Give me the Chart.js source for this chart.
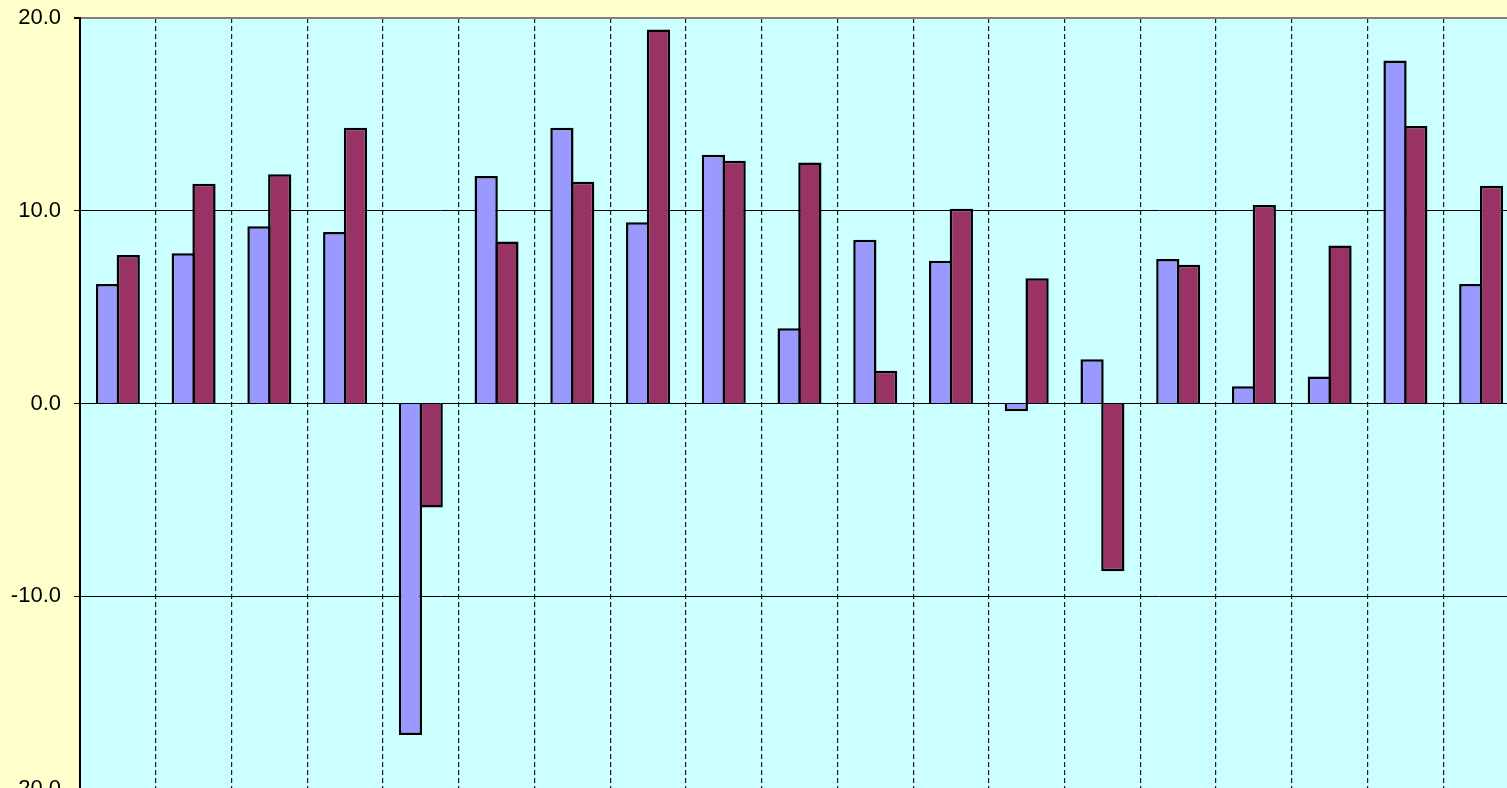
<!DOCTYPE html>
<html>
<head>
<meta charset="utf-8">
<script src="https://cdn.jsdelivr.net/npm/chart.js@4/dist/chart.umd.min.js"></script>
<style>
  html, body { margin: 0; padding: 0; background: #FFFFCC; overflow: hidden; }
  #wrap { position: absolute; left: 0; top: 0; width: 1530px; height: 812px; }
</style>
</head>
<body>
<div id="wrap"><canvas id="c" width="1530" height="812"></canvas></div>
<script>
const categories = ["1","2","3","4","5","6","7","8","9","10","11","12","13","14","15","16","17","18","19"];
const seriesA = [6.2, 7.8, 9.2, 8.9, -17.2, 11.8, 14.3, 9.4, 12.9, 3.9, 8.5, 7.4, -0.4, 2.3, 7.5, 0.9, 1.4, 17.8, 6.2];
const seriesB = [7.7, 11.4, 11.9, 14.3, -5.4, 8.4, 11.5, 19.4, 12.6, 12.5, 1.7, 10.1, 6.5, -8.7, 7.2, 10.3, 8.2, 14.4, 11.3];
const yMin = -20, yMax = 20, yStep = 10;

const plotBg = {
  id: 'plotBg',
  beforeDraw(chart) {
    const a = chart.chartArea, ctx = chart.ctx;
    ctx.save();
    ctx.fillStyle = '#CCFFFF';
    ctx.fillRect(a.left, a.top, a.right - a.left, a.bottom - a.top);
    ctx.restore();
  }
};

new Chart(document.getElementById('c'), {
  type: 'bar',
  data: {
    labels: categories,
    datasets: [
      { label: 'A', data: seriesA, backgroundColor: '#9999FF', borderColor: '#000000',
        borderWidth: 2.5, borderSkipped: 'start' },
      { label: 'B', data: seriesB, backgroundColor: '#993366', borderColor: '#000000',
        borderWidth: 2.5, borderSkipped: 'start' }
    ]
  },
  options: {
    responsive: false,
    animation: false,
    devicePixelRatio: 1,
    layout: { padding: { top: 18, right: 11, bottom: 23, left: 0 } },
    plugins: { legend: { display: false }, tooltip: { enabled: false } },
    datasets: { bar: { categoryPercentage: 0.548, barPercentage: 1.12 } },
    scales: {
      x: {
        ticks: { display: false },
        grid: { display: true, offset: true, color: '#1a1a1a', lineWidth: 1.2, drawTicks: false },
        border: { display: false, dash: [5, 3] },
        afterFit(s) { s.height = 0; s.paddingLeft = 0; s.paddingRight = 0; }
      },
      y: {
        min: yMin, max: yMax,
        ticks: {
          stepSize: yStep, color: '#000000', padding: 13,
          font: { family: 'Liberation Sans, Arial, sans-serif', size: 22 },
          callback: v => v.toFixed(1)
        },
        grid: {
          color: ctx => (ctx.tick && (ctx.tick.value === yMax || ctx.tick.value === yMin)) ? '#808080' : '#000000',
          lineWidth: ctx => (ctx.tick && (ctx.tick.value === yMax || ctx.tick.value === yMin)) ? 2 : 1,
          tickLength: 6, tickColor: '#000000'
        },
        border: { display: true, color: '#000000', width: 2 },
        afterFit(s) { s.width = 80; s.paddingTop = 0; s.paddingBottom = 0; }
      }
    }
  },
  plugins: [plotBg]
});
</script>
</body>
</html>
